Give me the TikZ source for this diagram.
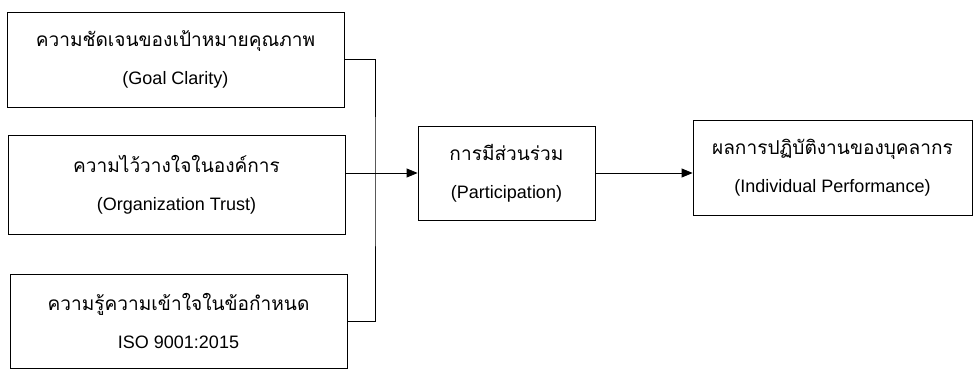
\documentclass[tikz,border=0pt]{standalone}
\usepackage{fontspec}
\setmainfont{Liberation Sans}
\newfontfamily\thaifont[Script=Thai,Scale=1.06]{Loma}
\usetikzlibrary{arrows.meta}
\tikzset{
  box/.style={draw, thick, align=center, inner sep=0pt, font=\fontsize{18}{38}\selectfont},
  link/.style={thick},
  arrowlink/.style={thick, -{Triangle[length=11pt, width=9pt]}}
}
\begin{document}
\begin{tikzpicture}[x=1pt, y=-1pt]
        \useasboundingbox (0,0) rectangle (977,369);

        % Fattori
        \node[box, minimum width=337pt, minimum height=95pt] (goal) at (175.5,59.5)
          {{\thaifont ความชัดเจนของเป้าหมายคุณภาพ}\\(Goal Clarity)};
        \node[box, minimum width=337pt, minimum height=99pt] (trust) at (176.5,184.5)
          {{\thaifont ความไว้วางใจในองค์การ}\\(Organization Trust)};
        \node[box, minimum width=337pt, minimum height=94pt] (iso) at (178.5,321)
          {{\thaifont ความรู้ความเข้าใจในข้อกำหนด}\\ISO 9001:2015};

        % Partecipazione e risultato
        \node[box, minimum width=177pt, minimum height=94pt] (part) at (506.5,173)
          {{\thaifont การมีส่วนร่วม}\\(Participation)};
        \node[box, minimum width=279pt, minimum height=95pt] (perf) at (832.5,168)
          {{\thaifont ผลการปฏิบัติงานของบุคลากร}\\(Individual Performance)};

        % Collegamenti
        \coordinate (jn) at (375,173);
        \draw[link] (goal.east) -| (jn) |- (iso.east);
        \draw[arrowlink] (trust.east |- part.west) -- (part.west);
        \draw[arrowlink] (part.east) -- (part.east -| perf.west);

    \end{tikzpicture}
\end{document}
